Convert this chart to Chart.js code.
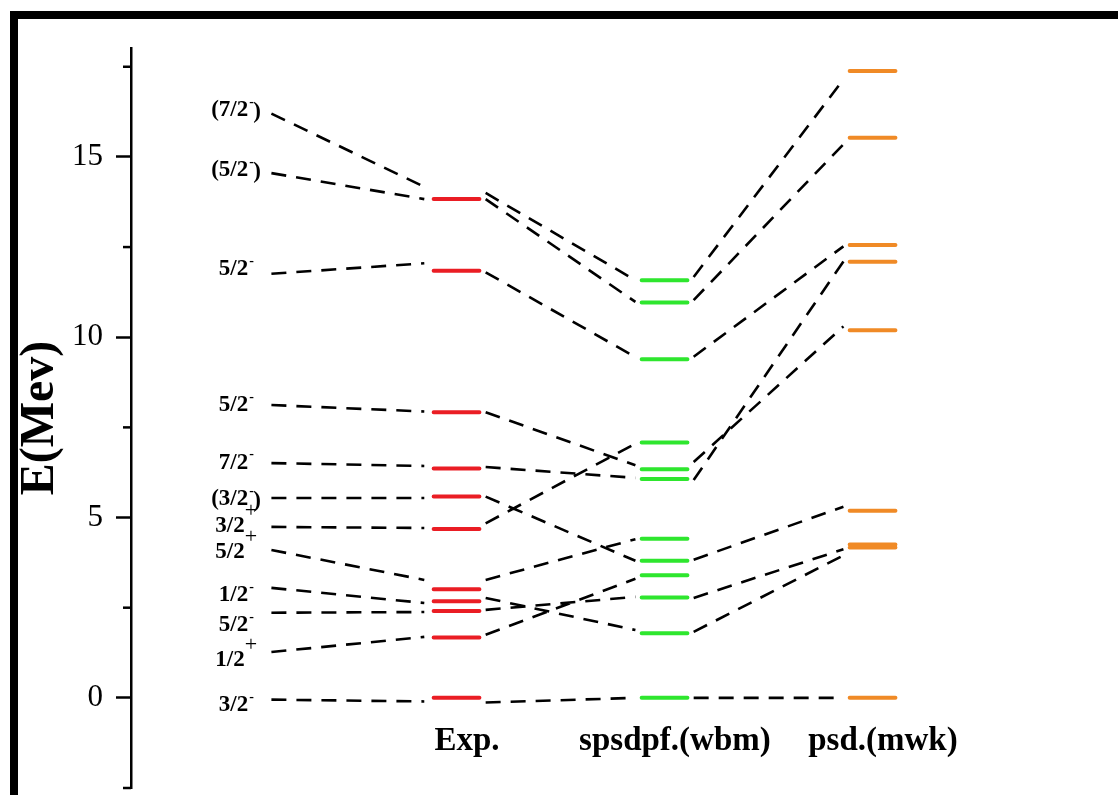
<!DOCTYPE html>
<html>
<head>
<meta charset="utf-8">
<title>Energy levels</title>
<script src="https://cdn.jsdelivr.net/npm/chart.js@4.4.1/dist/chart.umd.min.js"></script>
<style>
  html, body { margin: 0; padding: 0; background: #fff; }
  #wrap { position: relative; width: 1118px; height: 795px; }
</style>
</head>
<body>
<div id="wrap"><canvas id="levels"></canvas></div>
<script>
// level energies (MeV) for each column
const columns = ['Exp.', 'spsdpf.(wbm)', 'psd.(mwk)'];
const expLevels = [0, 1.67, 2.41, 2.68, 3.01, 4.68, 5.58, 6.36, 7.92, 11.84, 13.83];
const wbmLevels = [0, 1.79, 2.78, 3.40, 3.80, 4.41, 6.07, 6.34, 7.08, 9.39, 10.96, 11.58];
const mwkLevels = [0, 4.17, 4.25, 5.19, 10.19, 12.09, 12.56, 15.53, 17.38];

// spin/parity labels on the left and where they sit
const spinLabels = ['3/2-', '1/2+', '5/2-', '1/2-', '5/2+', '3/2+', '(3/2-)', '7/2-', '5/2-', '5/2-', '(5/2-)', '(7/2-)'];
const spinLabelE = [-0.2, 1.05, 2.02, 2.84, 4.05, 4.75, 5.5, 6.52, 8.12, 11.88, 14.64, 16.3];

// dashed connectors: [energy at start, energy at end]
const labelLinks = [[-0.05, -0.1], [1.27, 1.69], [2.36, 2.38], [3.05, 2.63], [4.1, 3.27], [4.74, 4.71],
  [5.54, 5.54], [6.51, 6.43], [8.12, 7.94], [11.76, 12.05], [14.55, 13.83], [16.2, 14.17]];
const expWbmLinks = [[-0.13, 0], [1.75, 3.3], [2.44, 2.8], [2.77, 1.88], [3.27, 4.4], [4.84, 7.05],
  [5.58, 3.8], [6.4, 6.1], [7.92, 6.45], [11.8, 9.45], [14.0, 11.58], [13.83, 10.98]];
const wbmMwkLinks = [[0, 0], [1.83, 3.95], [2.77, 4.12], [3.83, 5.3], [6.54, 10.3], [6.04, 12.1],
  [9.46, 12.52], [11.03, 15.35], [11.67, 17.15]];

const yTicks = [0, 5, 10, 15];
const yMinorTicks = [-2.5, 2.5, 7.5, 12.5, 17.5];

const serif = '"Liberation Serif", "Times New Roman", serif';
const HALF = 0.11;   // half length of a level bar (column units)
const GAP = 0.03;    // space between a bar end and its dashed line
const LABEL_X = -0.06;
const LABEL_LINE_X = 0.11;

function barPoints(col, levels) {
  const pts = [];
  levels.forEach(e => {
    pts.push({ x: col - HALF, y: e }, { x: col + HALF, y: e }, { x: col, y: null });
  });
  return pts;
}

function linkPoints(x0, x1, links) {
  const pts = [];
  links.forEach(([a, b]) => {
    pts.push({ x: x0, y: a }, { x: x1, y: b }, { x: x1, y: null });
  });
  return pts;
}

const connectors = [
  ...linkPoints(LABEL_LINE_X, 1 - HALF - 0.045, labelLinks),
  ...linkPoints(1 + HALF + GAP, 2 - HALF - GAP, expWbmLinks),
  ...linkPoints(2 + HALF + GAP, 3 - HALF - GAP, wbmMwkLinks)
];

function levelSet(data, color) {
  return {
    data, showLine: true, borderColor: color, borderWidth: 4,
    borderCapStyle: 'round', pointRadius: 0, spanGaps: false, tension: 0
  };
}

function drawSpin(ctx, text, cx, cy) {
  const m = text.match(/^(\(?\d\/\d)([+-])(\)?)$/);
  const base = m[1], sign = m[2], tail = m[3];
  const boldFont = 'bold 23px ' + serif;
  ctx.font = boldFont;
  const wBase = ctx.measureText(base).width;
  const wTail = tail ? ctx.measureText(tail).width : 0;
  const wSign = sign === '+' ? 12 : 5;
  let x = cx - (wBase + wSign + wTail) / 2;
  ctx.textAlign = 'left';
  ctx.textBaseline = 'middle';
  ctx.fillText(base, x, cy);
  x += wBase;
  if (sign === '+') {
    ctx.font = '22px ' + serif;
    ctx.fillText('+', x, cy - 15);
  } else {
    ctx.font = 'bold 14px ' + serif;
    ctx.fillText('-', x + 1, cy - 8);
  }
  x += wSign;
  if (tail) {
    ctx.font = boldFont;
    ctx.fillText(tail, x, cy + 2);
  }
}

const decor = {
  id: 'decor',
  beforeDraw(chart) {
    const { ctx, width, height } = chart;
    ctx.save();
    ctx.fillStyle = '#fff';
    ctx.fillRect(0, 0, width, height);
    ctx.fillStyle = '#000';
    ctx.fillRect(10, 11, width - 10, 8);
    ctx.fillRect(10, 11, 8, height - 11);
    ctx.restore();
  },
  afterDraw(chart) {
    const { ctx } = chart;
    const { x, y } = chart.scales;
    ctx.save();
    ctx.strokeStyle = '#000';
    ctx.lineWidth = 2.5;
    yMinorTicks.forEach(v => {
      const py = y.getPixelForValue(v);
      ctx.beginPath();
      ctx.moveTo(y.right - 8, py);
      ctx.lineTo(y.right, py);
      ctx.stroke();
    });

    ctx.fillStyle = '#000';
    spinLabels.forEach((s, i) => {
      drawSpin(ctx, s, x.getPixelForValue(LABEL_X), y.getPixelForValue(spinLabelE[i]));
    });

    ctx.font = 'bold 33px ' + serif;
    ctx.textAlign = 'center';
    ctx.textBaseline = 'alphabetic';
    columns.forEach((name, i) => {
      ctx.fillText(name, x.getPixelForValue(i + 1.05), y.getPixelForValue(-1.44));
    });
    ctx.restore();
  }
};

new Chart(document.getElementById('levels'), {
  type: 'scatter',
  data: {
    datasets: [
      levelSet(barPoints(1, expLevels), '#ea1d24'),
      levelSet(barPoints(2, wbmLevels), '#2ee62e'),
      levelSet(barPoints(3, mwkLevels), '#f08a26'),
      {
        data: connectors, showLine: true, borderColor: '#000', borderWidth: 2.6,
        borderDash: [15, 10], pointRadius: 0, spanGaps: false, tension: 0
      }
    ]
  },
  options: {
    responsive: true,
    maintainAspectRatio: false,
    animation: false,
    events: [],
    layout: { padding: { top: 48, bottom: 7, left: 0, right: 0 } },
    plugins: { legend: { display: false }, tooltip: { enabled: false } },
    scales: {
      x: { type: 'linear', display: false, min: -0.565, max: 4.18 },
      y: {
        type: 'linear', min: -2.5, max: 18.02,
        afterBuildTicks: scale => { scale.ticks = yTicks.map(v => ({ value: v })); },
        afterFit: scale => {
          scale.width = 131;
          scale.paddingTop = 0;
          scale.paddingBottom = 0;
        },
        ticks: { color: '#000', padding: 13, font: { family: serif, size: 31 }, callback: v => String(v) },
        grid: { drawOnChartArea: false, tickLength: 15, tickWidth: 2.5, tickColor: '#000' },
        border: { color: '#000', width: 2.5 },
        title: {
          display: true, text: 'E(Mev)', color: '#000',
          font: { family: serif, size: 48, weight: 'bold' },
          padding: { top: 12, bottom: 0 }
        }
      }
    }
  },
  plugins: [decor]
});
</script>
</body>
</html>
